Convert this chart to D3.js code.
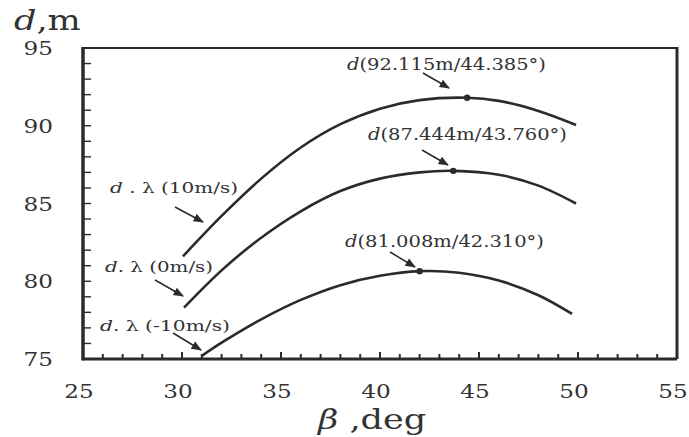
<!DOCTYPE html>
<html lang="en">
<head>
<meta charset="UTF-8">
<title>d vs beta</title>
<script src="https://d3js.org/d3.v7.min.js"></script>
<style>
    body { margin: 0; background: #fff; }
    svg text { font-family: "DejaVu Serif", "Liberation Serif", serif; fill: #333; }
</style>
</head>
<body>
<svg id="chart" width="689" height="437"></svg>
<script>
    // ---- data ----
    const betaTop = [30.05, 32, 34, 36, 38, 40, 42, 44.4, 46, 48, 49.9];
    const dTop    = [81.6, 84.2, 86.6, 88.6, 90.1, 91.1, 91.65, 91.8, 91.6, 90.95, 90.05];

    const betaMid = [30.1, 32, 34, 36, 38, 40, 42, 43.7, 46, 48, 49.9];
    const dMid    = [78.3, 80.7, 82.8, 84.5, 85.8, 86.6, 87.0, 87.1, 86.85, 86.15, 85.0];

    const betaLow = [31.0, 32, 34, 36, 38, 40, 42.0, 44, 46, 48, 49.7];
    const dLow    = [75.2, 76.05, 77.55, 78.8, 79.75, 80.35, 80.65, 80.55, 80.05, 79.1, 77.9];

    // peak markers (plotted position) and their labels
    const peakBeta   = [44.4, 43.7, 42.0];
    const peakD      = [91.8, 87.1, 80.65];
    const peakLabels = ["(92.115m/44.385°)", "(87.444m/43.760°)", "(81.008m/42.310°)"];

    const seriesLabels = ["(10m/s)", "(0m/s)", "(-10m/s)"];

    const xTicks = [25, 30, 35, 40, 45, 50, 55];
    const yTicks = [75, 80, 85, 90, 95];

    // ---- layout ----
    const svg = d3.select("#chart");
    const pLeft = 83, pRight = 677, pTop = 48, pBottom = 359;

    const x = d3.scaleLinear().domain([25, 55]).range([pLeft, pRight]);
    const y = d3.scaleLinear().domain([75, 95]).range([pBottom, pTop]);

    const ink = "#2b2b2b";

    // frame
    svg.append("line").attr("x1", pLeft).attr("x2", pRight).attr("y1", pTop).attr("y2", pTop)
        .attr("stroke", ink).attr("stroke-width", 2.2);
    svg.append("line").attr("x1", pRight).attr("x2", pRight).attr("y1", pTop - 1).attr("y2", pBottom)
        .attr("stroke", ink).attr("stroke-width", 3);

    // minor / major ticks, pointing inward
    svg.append("g").selectAll("line")
        .data(d3.range(26, 55, 1))
        .join("line")
        .attr("x1", d => x(d)).attr("x2", d => x(d))
        .attr("y1", pBottom).attr("y2", d => pBottom - (d % 5 === 0 ? 7 : 5))
        .attr("stroke", ink).attr("stroke-width", 2);

    svg.append("g").selectAll("line")
        .data(d3.range(76, 95, 1))
        .join("line")
        .attr("x1", pLeft).attr("x2", pLeft + 8)
        .attr("y1", d => y(d)).attr("y2", d => y(d))
        .attr("stroke", ink).attr("stroke-width", 1.4);

    // axes lines
    svg.append("line").attr("x1", pLeft).attr("x2", pRight).attr("y1", pBottom).attr("y2", pBottom)
        .attr("stroke", ink).attr("stroke-width", 3);
    svg.append("line").attr("x1", pLeft).attr("x2", pLeft).attr("y1", pTop - 1).attr("y2", pBottom + 1.5)
        .attr("stroke", ink).attr("stroke-width", 3.5);

    // tick labels (wide serif look: stretch horizontally)
    svg.append("g").selectAll("text")
        .data(xTicks)
        .join("text")
        .attr("transform", d => `translate(${x(d) - 4},398) scale(1.22,1)`)
        .attr("text-anchor", "middle")
        .attr("font-size", 19)
        .text(d => d);

    svg.append("g").selectAll("text")
        .data(yTicks)
        .join("text")
        .attr("transform", d => `translate(53,${y(d) + 7}) scale(1.22,1)`)
        .attr("text-anchor", "end")
        .attr("font-size", 19)
        .text(d => d);

    // axis titles
    const yTitle = svg.append("text")
        .attr("transform", "translate(14,30) scale(1.3,1)")
        .attr("font-size", 27);
    yTitle.append("tspan").attr("font-style", "italic").text("d");
    yTitle.append("tspan").text(",m");

    const xTitle = svg.append("text")
        .attr("transform", "translate(318,429) scale(1.3,1)")
        .attr("font-size", 27);
    xTitle.append("tspan").attr("font-style", "italic").text("β");
    xTitle.append("tspan").text(" ,deg");

    // curves
    const line = d3.line()
        .x(d => x(d[0]))
        .y(d => y(d[1]))
        .curve(d3.curveCatmullRom);

    [[betaTop, dTop], [betaMid, dMid], [betaLow, dLow]].forEach(([bs, ds]) => {
        svg.append("path")
            .datum(bs.map((b, i) => [b, ds[i]]))
            .attr("d", line)
            .attr("fill", "none")
            .attr("stroke", ink)
            .attr("stroke-width", 2.6);
    });

    // peak dots
    svg.append("g").selectAll("circle")
        .data(peakBeta)
        .join("circle")
        .attr("cx", d => x(d))
        .attr("cy", (d, i) => y(peakD[i]))
        .attr("r", 3.2)
        .attr("fill", ink);

    // arrows
    svg.append("defs").append("marker")
        .attr("id", "arrow")
        .attr("viewBox", "0 0 10 10")
        .attr("refX", 9).attr("refY", 5)
        .attr("markerWidth", 7).attr("markerHeight", 7)
        .attr("orient", "auto")
        .append("path")
        .attr("d", "M0,1 L10,5 L0,9 Z")
        .attr("fill", ink);

    const arrows = [
        [423, 73, 449, 88],
        [422, 150, 448, 165],
        [390, 252, 415, 267],
        [175, 207, 203, 222],
        [155, 280, 183, 296],
        [173, 333, 201, 350]
    ];
    svg.append("g").selectAll("line")
        .data(arrows)
        .join("line")
        .attr("x1", d => d[0]).attr("y1", d => d[1])
        .attr("x2", d => d[2]).attr("y2", d => d[3])
        .attr("stroke", ink).attr("stroke-width", 1.5)
        .attr("marker-end", "url(#arrow)");

    // peak labels
    const peakPos = [[347, 70], [368, 140], [345, 247]];
    peakLabels.forEach((t, i) => {
        const g = svg.append("text")
            .attr("transform", `translate(${peakPos[i][0]},${peakPos[i][1]}) scale(1.22,1)`)
            .attr("font-size", 16);
        g.append("tspan").attr("font-style", "italic").text("d");
        g.append("tspan").text(t);
    });

    // series labels
    const seriesPos = [[110, 193, 128], [105, 272, 108], [100, 331, 130]];
    seriesLabels.forEach((t, i) => {
        const g = svg.append("text")
            .attr("x", seriesPos[i][0]).attr("y", seriesPos[i][1])
            .attr("font-size", 15)
            .attr("textLength", seriesPos[i][2])
            .attr("lengthAdjust", "spacingAndGlyphs");
        g.append("tspan").attr("font-style", "italic").text("d");
        g.append("tspan").text(i === 0 ? " .  λ " : ". λ ");
        g.append("tspan").text(t);
    });
</script>
</body>
</html>
